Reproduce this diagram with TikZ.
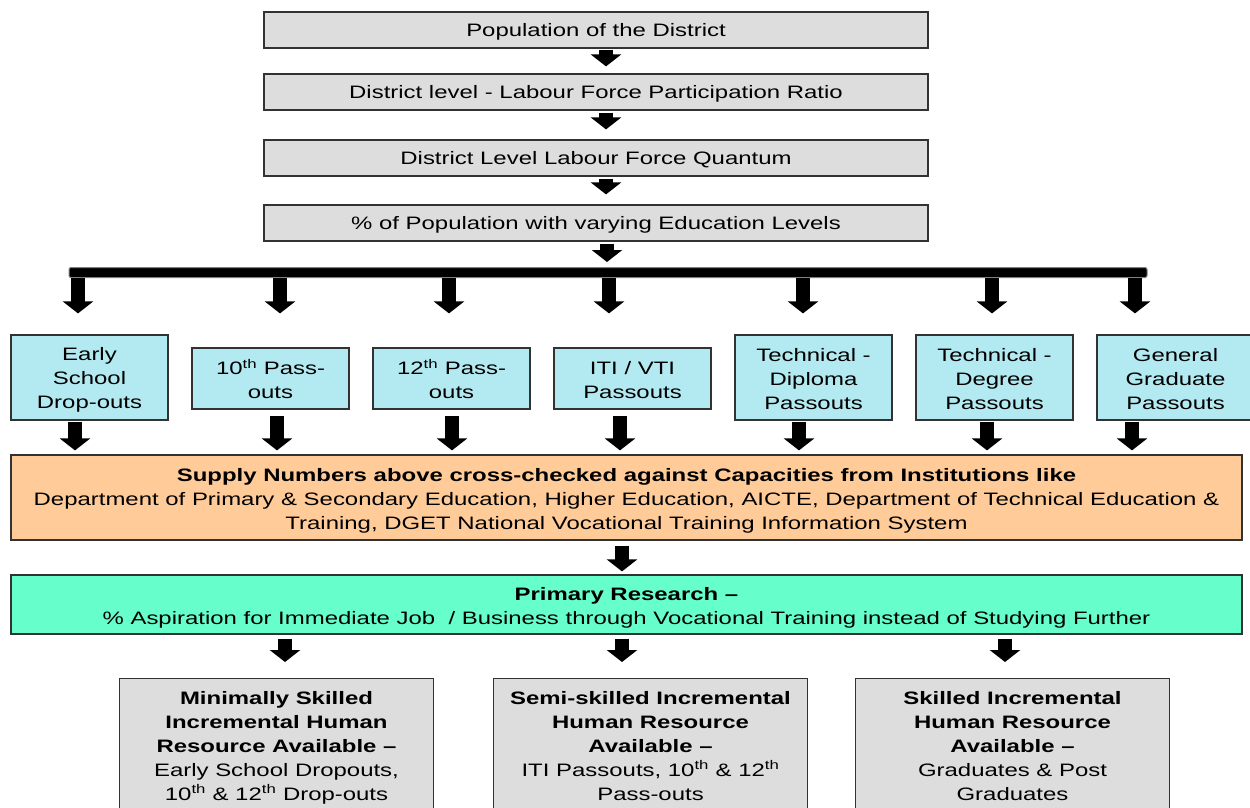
\documentclass[tikz,border=0pt]{standalone}
\usepackage{fontspec}
\setmainfont{Liberation Sans}[FakeStretch=1.33]
\usetikzlibrary{arrows.meta,calc}

\definecolor{boxgray}{RGB}{221,221,221}
\definecolor{levelcyan}{RGB}{179,233,240}
\definecolor{supplyorange}{RGB}{255,204,153}
\definecolor{researchgreen}{RGB}{102,255,204}
\definecolor{edge}{RGB}{50,50,50}

% a taller first line pushes a text block slightly down inside its frame
\newcommand{\tallline}[1]{\rule{0pt}{#1}}

\begin{document}
\begin{tikzpicture}[x=1pt,y=-1pt,
  every node/.style={font=\fontsize{18}{24}\selectfont, align=center, inner sep=0pt},
  framed/.style={draw=edge, line width=1.2pt},
  topbox/.style={framed, fill=boxgray, minimum width=664pt, minimum height=36pt,
                 execute at begin node={\tallline{17pt}}},
  levelbox/.style={framed, fill=levelcyan, minimum width=157pt},
  tallbox/.style={levelbox, minimum height=85pt},
  shortbox/.style={levelbox, minimum height=61pt},
  widebox/.style={framed, minimum width=1231pt},
  resultbox/.style={framed, fill=boxgray, anchor=north, minimum width=314pt, inner ysep=12.5pt},
  blk/.style={line width=14pt, -{Triangle[width=30pt,length=12pt]}}]

\useasboundingbox (0,0) rectangle (1250,807);
\clip (0,0) rectangle (1250,807);

% chain of district-level quantities
\node[topbox] (b1) at (596,30)  {Population of the District};
\node[topbox] (b2) at (596,92)  {District level - Labour Force Participation Ratio};
\node[topbox] (b3) at (596,158) {District Level Labour Force Quantum};
\node[topbox] (b4) at (596,223) {\% of Population with varying Education Levels};

\draw[blk, shorten <=1pt, shorten >=7pt] ([xshift=10pt]b1.south) -- ([xshift=10pt]b2.north);
\draw[blk, shorten <=2pt, shorten >=10pt] ([xshift=10pt]b2.south) -- ([xshift=10pt]b3.north);
\draw[blk, shorten <=2pt, shorten >=10pt] ([xshift=10pt]b3.south) -- ([xshift=10pt]b4.north);

% distribution bar
\node[draw=gray, line width=1pt, fill=black, rounded corners=2pt,
      minimum width=1078pt, minimum height=10pt] (bar) at (608,272.5) {};
\draw[blk, shorten <=2pt, shorten >=5pt] ([xshift=11pt]b4.south) -- ([xshift=11pt]b4.south |- bar.north);

% education levels
\node[tallbox]  (c1) at (89.5,377.5)  {\tallline{17pt}Early\\School\\Drop-outs};
\node[shortbox] (c2) at (270.5,378.5) {\tallline{17pt}10\textsuperscript{th} Pass-\\outs};
\node[shortbox] (c3) at (451.5,378.5) {\tallline{17pt}12\textsuperscript{th} Pass-\\outs};
\node[shortbox] (c4) at (632.5,378.5) {\tallline{17pt}ITI / VTI\\Passouts};
\node[tallbox]  (c5) at (813.5,377.5) {\tallline{17pt}Technical -\\Diploma\\Passouts};
\node[tallbox]  (c6) at (994.5,377.5) {\tallline{17pt}Technical -\\Degree\\Passouts};
\node[tallbox]  (c7) at (1175.5,377.5) {\tallline{17pt}General\\Graduate\\Passouts};

\foreach \x/\n/\s in {78/c1/21, 280/c2/34, 449/c3/34, 609/c4/34, 803/c5/21, 992/c6/21, 1135/c7/21}{
  \coordinate (col) at (\x,0);
  \draw[blk, shorten >=\s pt] (bar.south -| col) -- (\n.north -| col);
}

% cross-check against institutional capacities
\node[widebox, fill=supplyorange, minimum height=85pt] (sup) at (626.5,497.5)
  {\tallline{20pt}\textbf{Supply Numbers above cross-checked against Capacities from Institutions like}\\
   Department of Primary \& Secondary Education, Higher Education, AICTE, Department of Technical Education \&\\
   Training, DGET National Vocational Training Information System};

\foreach \x/\n/\s in {75/c1/1, 277/c2/6, 452/c3/6, 620/c4/6, 799/c5/1, 987/c6/1, 1132/c7/1}{
  \coordinate (col) at (\x,0);
  \draw[blk, shorten <=\s pt, shorten >=4pt] (\n.south -| col) -- (sup.north -| col);
}

% primary research
\node[widebox, fill=researchgreen, minimum height=59pt] (res) at (626.5,604.5)
  {\tallline{20pt}\textbf{Primary Research –}\\
   \% Aspiration for Immediate Job\ \ / Business through Vocational Training instead of Studying Further};

\draw[blk, shorten <=5pt, shorten >=3pt] ([xshift=-4.5pt]sup.south) -- ([xshift=-4.5pt]res.north);

% resulting human resource pools
\node[resultbox] (r1) at (276.5,678)
  {\textbf{Minimally Skilled}\\ \textbf{Incremental Human}\\ \textbf{Resource Available –}\\
   Early School Dropouts,\\ 10\textsuperscript{th} \& 12\textsuperscript{th} Drop-outs};
\node[resultbox] (r2) at (650.5,678)
  {\textbf{Semi-skilled Incremental}\\ \textbf{Human Resource}\\ \textbf{Available –}\\
   ITI Passouts, 10\textsuperscript{th} \& 12\textsuperscript{th}\\ Pass-outs};
\node[resultbox] (r3) at (1012.5,678)
  {\textbf{Skilled Incremental}\\ \textbf{Human Resource}\\ \textbf{Available –}\\
   Graduates \& Post\\ Graduates};

\foreach \x/\n in {285/r1, 622/r2, 1005/r3}{
  \coordinate (col) at (\x,0);
  \draw[blk, shorten <=4pt, shorten >=16pt] (res.south -| col) -- (\n.north -| col);
}
\end{tikzpicture}
\end{document}
